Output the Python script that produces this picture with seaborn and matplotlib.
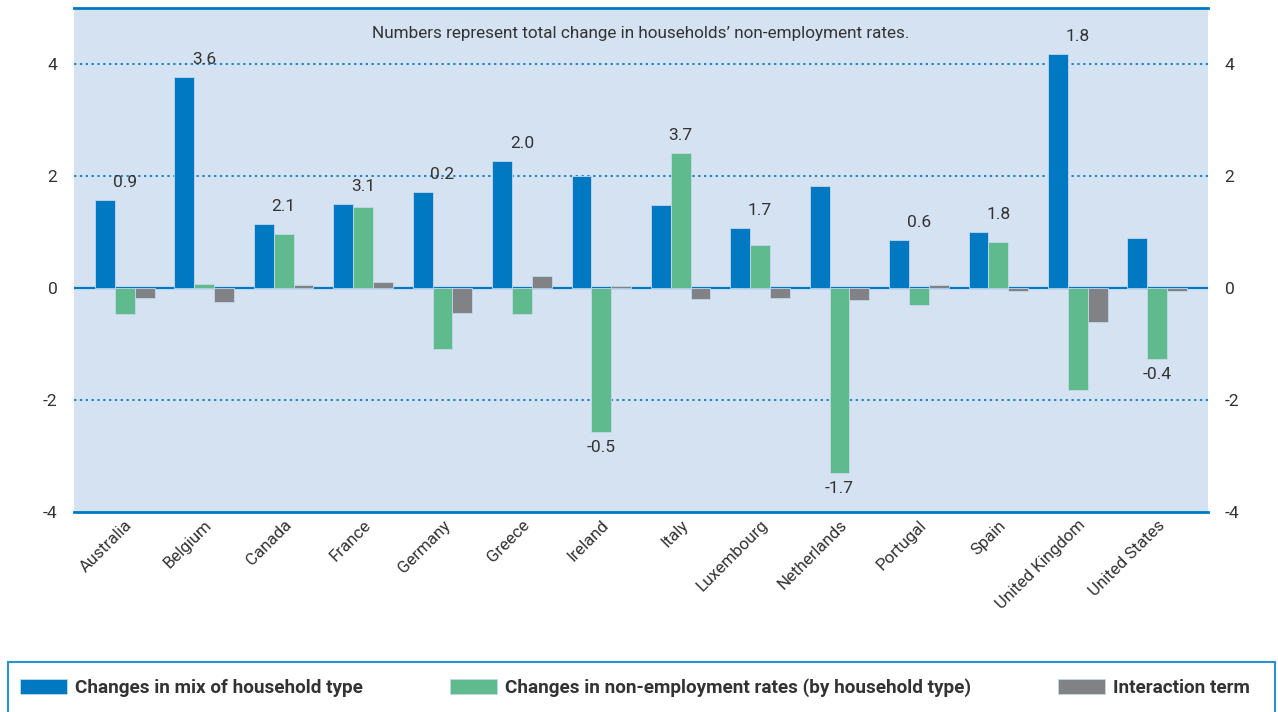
import matplotlib
matplotlib.use("Agg")
import matplotlib.pyplot as plt
import seaborn as sns
import pandas as pd
from matplotlib.patches import Rectangle

countries = ["Australia", "Belgium", "Canada", "France", "Germany", "Greece", "Ireland",
             "Italy", "Luxembourg", "Netherlands", "Portugal", "Spain",
             "United Kingdom", "United States"]
mix_change = [1.57, 3.77, 1.14, 1.50, 1.71, 2.27, 2.00, 1.48, 1.07, 1.82, 0.86, 1.00, 4.18, 0.89]
rate_change = [-0.46, 0.07, 0.96, 1.45, -1.09, -0.46, -2.57, 2.41, 0.77, -3.30, -0.30, 0.82, -1.82, -1.27]
interaction = [-0.18, -0.25, 0.05, 0.11, -0.45, 0.21, 0.03, -0.20, -0.18, -0.21, 0.05, -0.05, -0.60, -0.05]
total_change = [0.9, 3.6, 2.1, 3.1, 0.2, 2.0, -0.5, 3.7, 1.7, -1.7, 0.6, 1.8, 1.8, -0.4]

components = ["Changes in mix of household type",
              "Changes in non-employment rates (by household type)",
              "Interaction term"]
colors = ["#0079c2", "#5fbb8e", "#808285"]
yticks = [-4, -2, 0, 2, 4]

df = pd.DataFrame({
    "country": countries * 3,
    "component": [components[0]] * len(countries) + [components[1]] * len(countries)
                 + [components[2]] * len(countries),
    "value": mix_change + rate_change + interaction,
})

sns.set_theme(style="white")
plt.rcParams["font.family"] = ["Roboto", "DejaVu Sans"]

fig = plt.figure(figsize=(12.78, 7.12), dpi=100)
ax = fig.add_axes([74 / 1278, 1 - 512 / 712, 1134 / 1278, 504 / 712])
ax.set_facecolor("#d5e2f1")

sns.barplot(data=df, x="country", y="value", hue="component", order=countries,
            hue_order=components, palette=colors, saturation=1, width=0.75,
            edgecolor="#c3d8ec", linewidth=0.6, ax=ax, legend=True, zorder=3)

ax.set_xlim(-0.64, len(countries) - 0.36)
ax.set_ylim(-4, 5)
ax.set_yticks(yticks)
ax.set_yticklabels([str(t) for t in yticks])
ax.set_xlabel("")
ax.set_ylabel("")

for t in [4, 2, -2]:
    ax.axhline(t, color="#1a86cc", lw=1.4, ls=(0, (1.2, 1.8)), zorder=1)
ax.axhline(0, color="#0079c2", lw=1.6, zorder=2)

for side in ["left", "right"]:
    ax.spines[side].set_visible(False)
for side in ["top", "bottom"]:
    ax.spines[side].set_color("#0079c2")
    ax.spines[side].set_linewidth(2)

ax.tick_params(axis="y", length=0, labelsize=12.5, labelcolor="#333333", pad=12,
               labelright=True, right=False)
ax.tick_params(axis="x", length=0, labelsize=12.2, labelcolor="#333333", pad=4)
plt.setp(ax.get_xticklabels(), rotation=45, ha="right", rotation_mode="anchor")

# total-change labels above (or below, when negative) each group of bars
for i, tot in enumerate(total_change):
    vals = [mix_change[i], rate_change[i], interaction[i]]
    if tot >= 0:
        ax.text(i, max(vals) + 0.18, f"{tot:.1f}", ha="center", va="bottom",
                fontsize=12.5, color="#333333", zorder=4)
    else:
        ax.text(i, min(vals) - 0.14, f"{tot:.1f}", ha="center", va="top",
                fontsize=12.5, color="#333333", zorder=4)

ax.text(0.5, 0.95, "Numbers represent total change in households\u2019 non-employment rates.",
        transform=ax.transAxes, ha="center", va="center", fontsize=12.3, color="#333333")

handles, labels = ax.get_legend_handles_labels()
ax.get_legend().remove()
fig.add_artist(Rectangle((8 / 1278, -0.02), 1267 / 1278, 50 / 712 + 0.02,
                         transform=fig.transFigure, fill=False,
                         edgecolor="#2a92d2", lw=1.5))
leg = fig.legend(handles, labels, loc="center left",
                 bbox_to_anchor=(20 / 1278, 1 - 688 / 712), ncol=3, frameon=False,
                 borderpad=0, borderaxespad=0, handlelength=2.5, handleheight=0.85,
                 handletextpad=0.42, columnspacing=4.6,
                 prop={"weight": "bold", "size": 13.6})
for txt in leg.get_texts():
    txt.set_color("#333333")

fig.savefig("out.png", dpi=100)
